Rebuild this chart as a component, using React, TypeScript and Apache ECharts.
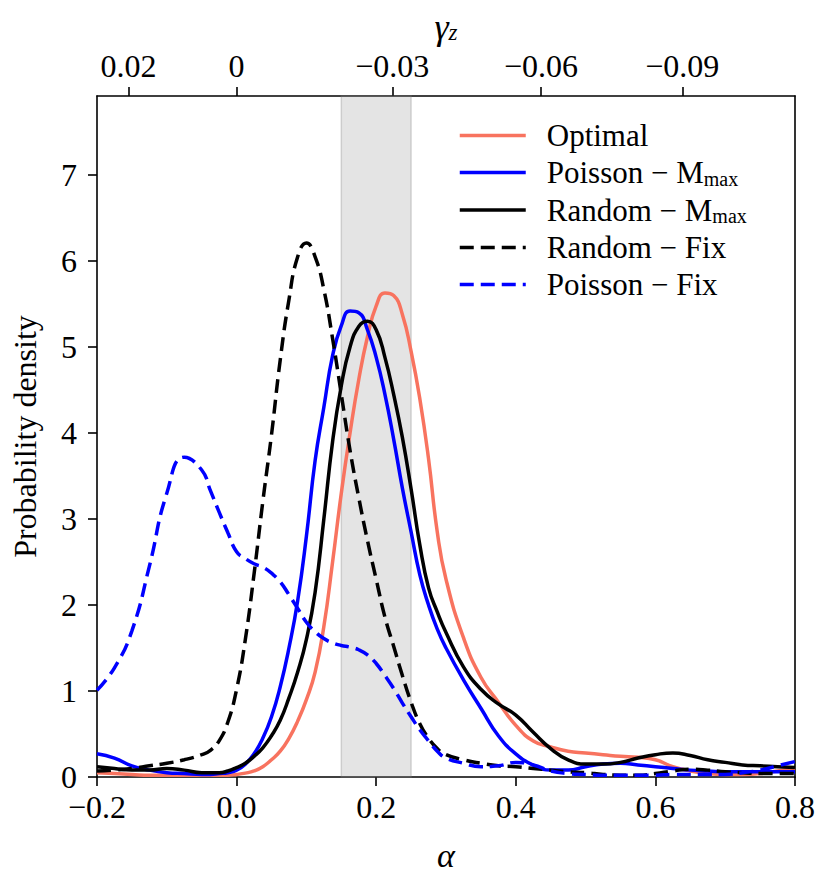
import React, { useEffect, useRef } from 'react';
import * as echarts from 'echarts';

// alpha grid (x values): 0.025 steps outside the peak region, 0.0125 steps in [-0.05, 0.3]
const alpha = [
  -0.2, -0.175, -0.15, -0.125, -0.1, -0.075, -0.05, -0.0375, -0.025, -0.0125,
  0, 0.0125, 0.025, 0.0375, 0.05, 0.0625, 0.075, 0.0875, 0.1, 0.1125,
  0.125, 0.1375, 0.15, 0.1625, 0.175, 0.1875, 0.2, 0.2125, 0.225, 0.2375,
  0.25, 0.2625, 0.275, 0.2875, 0.3,
  0.325, 0.35, 0.375, 0.4, 0.425, 0.45, 0.475, 0.5, 0.525, 0.55,
  0.575, 0.6, 0.625, 0.65, 0.675, 0.7, 0.725, 0.75, 0.775, 0.8,
];

const optimal = [
  0.05, 0.04, 0.03, 0.02, 0.02, 0.02, 0.02, 0.02, 0.02, 0.02,
  0.03, 0.045, 0.07, 0.12, 0.2, 0.3, 0.45, 0.65, 0.9, 1.22,
  1.75, 2.5, 3.3, 4.0, 4.62, 5.12, 5.48, 5.63, 5.6, 5.38,
  4.95, 4.4, 3.7, 2.85, 2.3,
  1.62, 1.16, 0.87, 0.6, 0.42, 0.35, 0.3, 0.28, 0.26, 0.24,
  0.23, 0.2, 0.12, 0.07, 0.04, 0.03, 0.03, 0.04, 0.07, 0.1,
];

const poissonMmax = [
  0.27, 0.22, 0.13, 0.08, 0.05, 0.04, 0.03, 0.03, 0.04, 0.05,
  0.08, 0.15, 0.27, 0.45, 0.7, 1.05, 1.5, 2.05, 2.8, 3.68,
  4.3, 4.9, 5.25, 5.42, 5.4, 5.2, 4.88, 4.45, 3.93, 3.36,
  2.85, 2.35, 2.0, 1.72, 1.5,
  1.13, 0.8, 0.48, 0.27, 0.14, 0.08, 0.08, 0.12, 0.15, 0.16,
  0.14, 0.12, 0.1, 0.08, 0.07, 0.06, 0.06, 0.06, 0.06, 0.06,
];

const randomMmax = [
  0.12, 0.1, 0.08, 0.08, 0.1, 0.08, 0.05, 0.05, 0.05, 0.07,
  0.11, 0.16, 0.24, 0.34, 0.48, 0.66, 0.92, 1.22, 1.6, 2.15,
  3.0, 3.9, 4.55, 5.0, 5.24, 5.3, 5.2, 4.88, 4.45, 3.95,
  3.35, 2.7, 2.2, 1.92, 1.68,
  1.28, 1.02, 0.85, 0.72, 0.52, 0.33, 0.2, 0.15, 0.15, 0.17,
  0.22, 0.26, 0.28, 0.25, 0.2, 0.17, 0.14, 0.13, 0.12, 0.11,
];

const randomFix = [
  0.07, 0.08, 0.1, 0.13, 0.16, 0.2, 0.26, 0.31, 0.42, 0.64,
  1.02, 1.6, 2.36, 3.2, 3.98, 4.85, 5.55, 6.05, 6.21, 6.05,
  5.67, 5.1, 4.45, 3.8, 3.25, 2.75, 2.3, 1.86, 1.52, 1.18,
  0.87, 0.62, 0.45, 0.33, 0.26,
  0.2, 0.16, 0.13, 0.12, 0.1, 0.08, 0.06, 0.05, 0.03, 0.02,
  0.02, 0.04, 0.07, 0.09, 0.08, 0.06, 0.05, 0.04, 0.04, 0.04,
];

const poissonFix = [
  1.01, 1.27, 1.7, 2.45, 3.3, 3.72, 3.57, 3.33, 3.08, 2.84,
  2.62, 2.54, 2.48, 2.44, 2.37, 2.27, 2.12, 1.96, 1.8, 1.69,
  1.61, 1.56, 1.53, 1.51, 1.48, 1.42, 1.32, 1.18, 1.03, 0.86,
  0.7, 0.55, 0.42, 0.3, 0.22,
  0.16, 0.12, 0.13, 0.17, 0.14, 0.07, 0.04, 0.03, 0.02, 0.02,
  0.02, 0.02, 0.03, 0.03, 0.03, 0.03, 0.05, 0.08, 0.13, 0.18,
];

const seriesNames = [
  'Optimal',
  'Poisson − Mmax',
  'Random − Mmax',
  'Random − Fix',
  'Poisson − Fix',
];

const xTicks = [-0.2, 0, 0.2, 0.4, 0.6, 0.8];
const yTicks = [0, 1, 2, 3, 4, 5, 6, 7];
// positions (in alpha units) of the top gamma_z ticks
const gammaTickPos = [-0.155, 0.0, 0.223, 0.436, 0.6385];
const gammaTickLabels = ['0.02', '0', '−0.03', '−0.06', '−0.09'];
const bandRange = [0.15, 0.25];

const FONT = "'Liberation Serif', 'Times New Roman', serif";

export default function App() {
  const ref = useRef<HTMLDivElement>(null);

  useEffect(() => {
    if (!ref.current) return;
    const chart = echarts.init(ref.current, null, { renderer: 'svg' });

    const pairs = (ys: number[]) => alpha.map((a, i) => [a, ys[i]]);
    const dash = [14, 7];
    const lw = 3.5;

    const lineSeries = [
      { name: seriesNames[0], data: pairs(optimal), color: '#F8735F', type: 'solid' as any },
      { name: seriesNames[1], data: pairs(poissonMmax), color: '#0000FF', type: 'solid' as any },
      { name: seriesNames[2], data: pairs(randomMmax), color: '#000000', type: 'solid' as any },
      { name: seriesNames[3], data: pairs(randomFix), color: '#000000', type: dash as any },
      { name: seriesNames[4], data: pairs(poissonFix), color: '#0000FF', type: dash as any },
    ].map((s) => ({
      name: s.name,
      type: 'line',
      data: s.data,
      smooth: 0.5,
      showSymbol: false,
      symbol: 'none',
      color: s.color,
      lineStyle: { color: s.color, width: lw, type: s.type },
      z: 3,
    }));

    const axisLineStyle = { color: '#000', width: 1.6 };

    const option: any = {
      animation: false,
      backgroundColor: '#ffffff',
      textStyle: { fontFamily: FONT, color: '#000' },
      grid: { left: 97, right: 36, top: 96, bottom: 112, containLabel: false, outerBoundsMode: 'none' },
      legend: {
        data: seriesNames,
        orient: 'vertical',
        left: 458,
        top: 120,
        padding: 0,
        itemWidth: 66,
        itemHeight: 20,
        itemGap: 6,
        itemStyle: { opacity: 0 },
        lineStyle: { width: lw },
        textStyle: {
          fontFamily: FONT,
          color: '#000',
          fontSize: 31,
          rich: {
            n: { fontFamily: FONT, fontSize: 31, lineHeight: 32, color: '#000', padding: [0, 0, 0, 16] },
            s: { fontFamily: FONT, fontSize: 20, lineHeight: 12, color: '#000', verticalAlign: 'bottom' },
          },
        },
        formatter: (name: string) =>
          name.endsWith('Mmax') ? `{n|${name.slice(0, -3)}}{s|max}` : `{n|${name}}`,
      },
      xAxis: [
        {
          type: 'value',
          position: 'bottom',
          min: -0.2,
          max: 0.8,
          name: 'α',
          nameLocation: 'middle',
          nameGap: 61,
          nameTextStyle: { fontFamily: FONT, fontSize: 34, fontStyle: 'italic', color: '#000' },
          axisLine: { show: true, onZero: false, lineStyle: axisLineStyle },
          axisTick: { show: true, length: 9, lineStyle: axisLineStyle, customValues: xTicks },
          axisLabel: {
            customValues: xTicks,
            margin: 14,
            fontFamily: FONT,
            fontSize: 32,
            color: '#000',
            formatter: (v: number) => (v < 0 ? '−' : '') + Math.abs(v).toFixed(1),
          },
          splitLine: { show: false },
        },
        {
          type: 'value',
          position: 'top',
          min: -0.2,
          max: 0.8,
          name: '{g|γ}{s|z}',
          nameLocation: 'middle',
          nameGap: 52,
          nameTextStyle: {
            fontFamily: FONT,
            color: '#000',
            rich: {
              g: { fontFamily: FONT, fontSize: 36, fontStyle: 'italic', lineHeight: 34, color: '#000' },
              s: { fontFamily: FONT, fontSize: 23, fontStyle: 'italic', lineHeight: 14, verticalAlign: 'bottom', color: '#000' },
            },
          },
          axisLine: { show: true, onZero: false, lineStyle: axisLineStyle },
          axisTick: { show: true, length: 9, lineStyle: axisLineStyle, customValues: gammaTickPos },
          axisLabel: {
            customValues: gammaTickPos,
            margin: 14,
            fontFamily: FONT,
            fontSize: 32,
            color: '#000',
            formatter: (v: number) => {
              let best = 0;
              gammaTickPos.forEach((p, i) => {
                if (Math.abs(p - v) < Math.abs(gammaTickPos[best] - v)) best = i;
              });
              return gammaTickLabels[best];
            },
          },
          splitLine: { show: false },
        },
      ],
      yAxis: [
        {
          type: 'value',
          position: 'left',
          min: 0,
          max: 7.92,
          name: 'Probability density',
          nameLocation: 'middle',
          nameGap: 56,
          nameTextStyle: { fontFamily: FONT, fontSize: 32, color: '#000' },
          axisLine: { show: true, onZero: false, lineStyle: axisLineStyle },
          axisTick: { show: true, length: 9, lineStyle: axisLineStyle, customValues: yTicks },
          axisLabel: {
            customValues: yTicks,
            margin: 20,
            fontFamily: FONT,
            fontSize: 32,
            color: '#000',
            formatter: (v: number) => String(Math.round(v)),
          },
          splitLine: { show: false },
        },
        {
          type: 'value',
          position: 'right',
          min: 0,
          max: 7.92,
          axisLine: { show: true, onZero: false, lineStyle: axisLineStyle },
          axisTick: { show: false },
          axisLabel: { show: false },
          splitLine: { show: false },
        },
      ],
      series: [
        {
          name: 'band',
          type: 'line',
          data: [],
          z: 1,
          markArea: {
            silent: true,
            itemStyle: {
              color: 'rgba(128,128,128,0.21)',
              borderColor: 'rgba(128,128,128,0.3)',
              borderWidth: 1.5,
            },
            data: [[{ xAxis: bandRange[0] }, { xAxis: bandRange[1] }]],
          },
        },
        ...lineSeries,
      ],
    };

    chart.setOption(option);
    return () => chart.dispose();
  }, []);

  return (
    <div
      ref={ref}
      style={{ position: 'fixed', left: 0, top: 0, width: 831, height: 889, background: '#fff' }}
    />
  );
}
